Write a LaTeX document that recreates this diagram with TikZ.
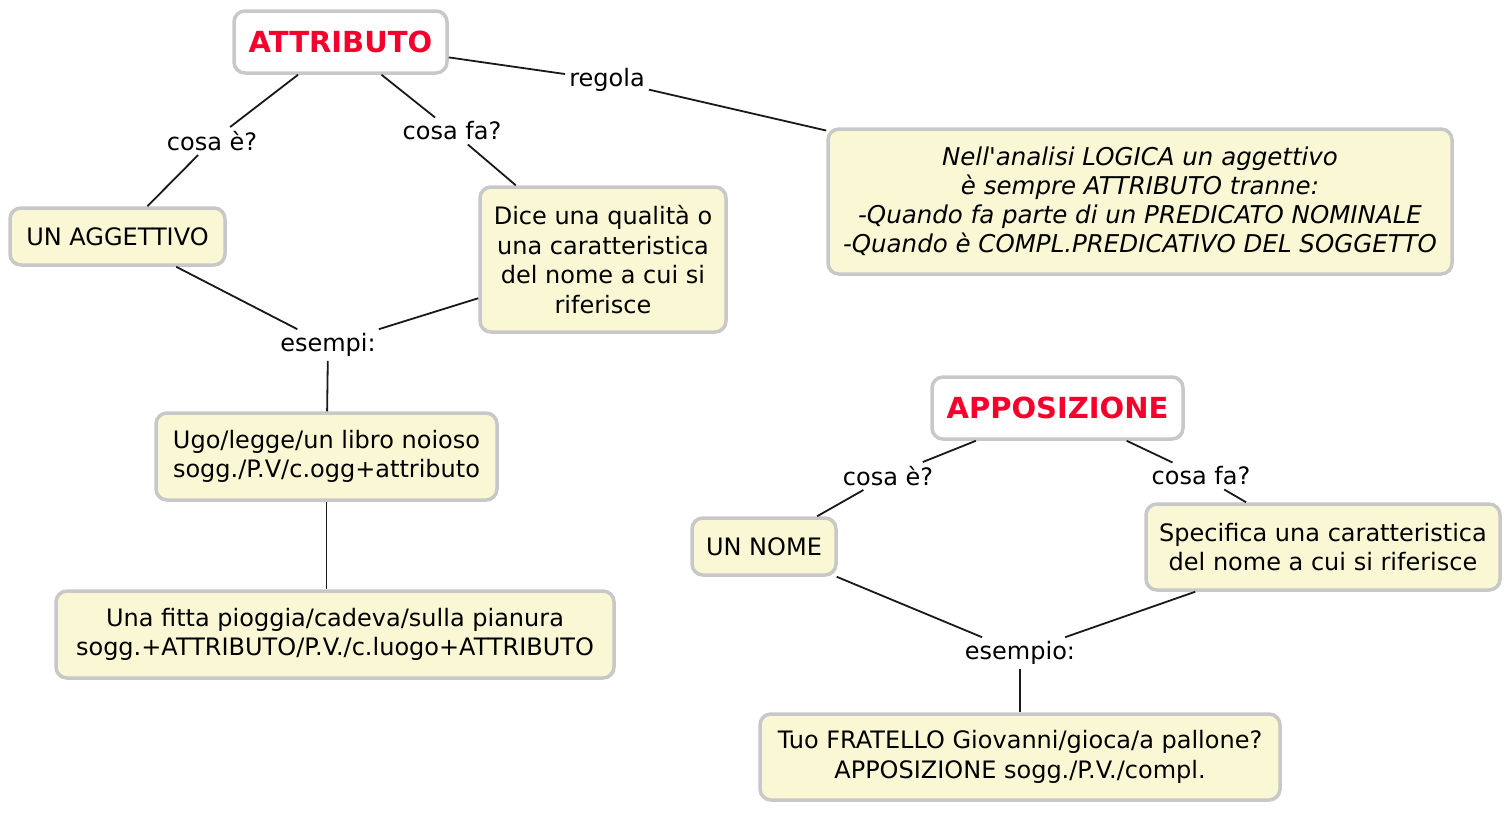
\documentclass[tikz,border=0pt]{standalone}
\usepackage{fontspec}
\setmainfont{DejaVu Sans}
\definecolor{bordergray}{RGB}{200,200,200}
\definecolor{cmapyellow}{RGB}{250,248,212}
\definecolor{cmapred}{RGB}{245,0,45}
\definecolor{linecol}{RGB}{25,25,25}
\begin{document}
\begin{tikzpicture}[x=1pt,y=-1pt,
  box/.style={draw=bordergray, line width=3.5pt, rounded corners=11pt, fill=cmapyellow,
    align=center, inner sep=0pt, font=\fontsize{24}{29.5}\selectfont},
  titlebox/.style={box, fill=white, text=cmapred, font=\fontsize{29}{34}\selectfont\bfseries},
  lab/.style={inner sep=4pt, font=\fontsize{24}{29}\selectfont},
  conn/.style={draw=linecol, line width=1.8pt}]
\useasboundingbox (0,0) rectangle (1512,812);
\fill[white] (0,0) rectangle (1512,812);
% nodes
\node[titlebox, minimum width=213pt, minimum height=62pt] (attr) at (340.5,42) {ATTRIBUTO};
\node[lab] (regola) at (607,80) {regola};
\node[box, minimum width=624pt, minimum height=145pt, font=\fontsize{24.5}{29}\selectfont\itshape] (nell) at (1140,201.5)
  {Nell\textquotesingle analisi LOGICA un aggettivo\\è sempre ATTRIBUTO tranne:\\-Quando fa parte di un PREDICATO NOMINALE\\-Quando è COMPL.PREDICATIVO DEL SOGGETTO};
\node[lab] (cosaeL) at (212,141) {cosa è?};
\node[lab] (cosafaL) at (452,131) {cosa fa?};
\node[box, minimum width=215pt, minimum height=57pt] (unagg) at (117.5,236.5) {UN AGGETTIVO};
\node[box, minimum width=246pt, minimum height=145pt] (dice) at (603,259.5)
  {Dice una qualità o\\una caratteristica\\del nome a cui si\\riferisce};
\node[lab] (esempi) at (328,345) {esempi:};
\node[box, minimum width=341pt, minimum height=87pt] (ugo) at (326.5,456.5)
  {Ugo/legge/un libro noioso\\sogg./P.V/c.ogg+attributo};
\node[box, minimum width=558pt, minimum height=87pt] (fitta) at (335,634.5)
  {Una fitta pioggia/cadeva/sulla pianura\\sogg.+ATTRIBUTO/P.V./c.luogo+ATTRIBUTO};
\node[titlebox, minimum width=251pt, minimum height=62pt] (appo) at (1057.5,408) {APPOSIZIONE};
\node[lab] (cosaeR) at (888,476) {cosa è?};
\node[lab] (cosafaR) at (1201,476) {cosa fa?};
\node[box, minimum width=144pt, minimum height=57pt] (unnome) at (764,546.5) {UN NOME};
\node[box, minimum width=354pt, minimum height=86pt] (spec) at (1323,547)
  {Specifica una caratteristica\\del nome a cui si riferisce};
\node[lab] (esempio) at (1020,653) {esempio:};
\node[box, minimum width=520pt, minimum height=86pt] (tuo) at (1020,757)
  {Tuo FRATELLO Giovanni/gioca/a pallone?\\APPOSIZIONE sogg./P.V./compl.};
% connectors
\draw[conn] (attr) -- (regola);
\draw[conn] (regola) -- (nell);
\draw[conn] (attr) -- (cosaeL);
\draw[conn] (cosaeL) -- (unagg);
\draw[conn] (attr) -- (cosafaL);
\draw[conn] (cosafaL) -- (dice);
\draw[conn] (unagg) -- (esempi);
\draw[conn] (dice) -- (esempi);
\draw[conn] (esempi) -- (ugo);
\draw[conn] (ugo.south) -- (ugo.south |- fitta.north);
\draw[conn] (appo) -- (cosaeR);
\draw[conn] (cosaeR) -- (unnome);
\draw[conn] (appo) -- (cosafaR);
\draw[conn] (cosafaR) -- (spec);
\draw[conn] (unnome) -- (esempio);
\draw[conn] (spec) -- (esempio);
\draw[conn] (esempio) -- (tuo);
\end{tikzpicture}
\end{document}
